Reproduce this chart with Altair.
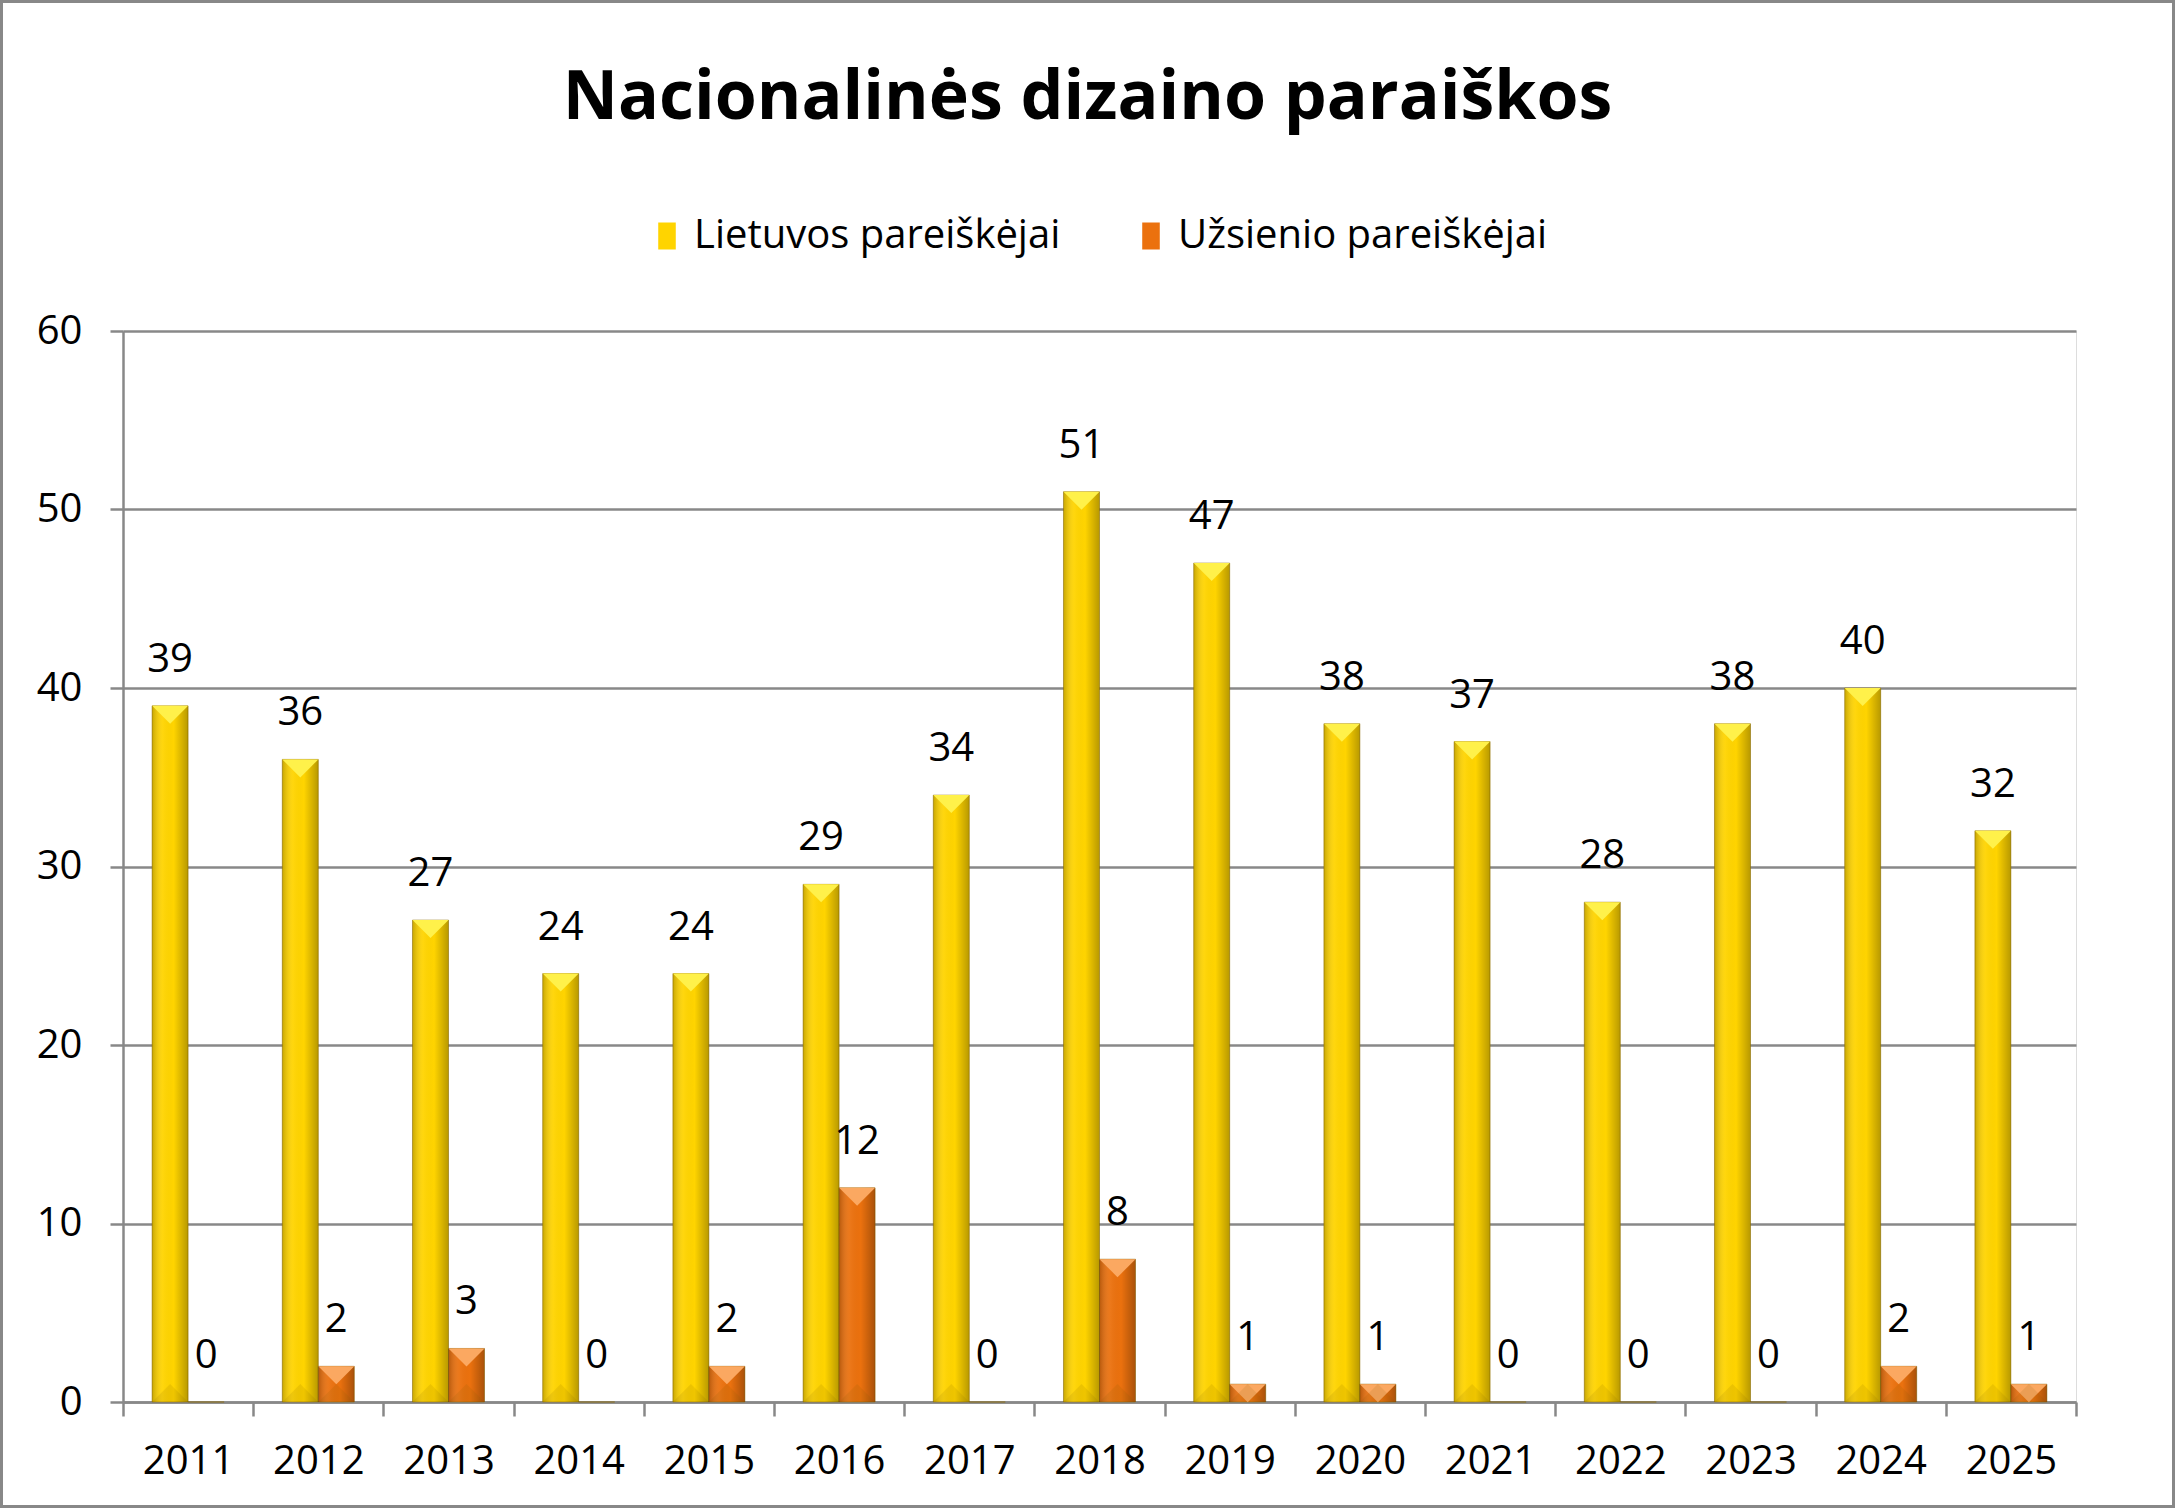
import altair as alt
import pandas as pd

years = [str(y) for y in range(2011, 2026)]
lietuvos = [39, 36, 27, 24, 24, 29, 34, 51, 47, 38, 37, 28, 38, 40, 32]
uzsienio = [0, 2, 3, 0, 2, 12, 0, 8, 1, 1, 0, 0, 0, 2, 1]
series = ["Lietuvos pareiškėjai", "Užsienio pareiškėjai"]
bar_colors = ["#FFD400", "#EB710E"]
top_colors = ["#FFF14A", "#FBA861"]
y_ticks = [0, 10, 20, 30, 40, 50, 60]
title_text = "Nacionalinės dizaino paraiškos"

rows = []
for i, yr in enumerate(years):
    rows.append({"year": yr, "series": series[0], "value": lietuvos[i]})
    rows.append({"year": yr, "series": series[1], "value": uzsienio[i]})
df = pd.DataFrame(rows)

FONT = "Open Sans"
GRAY = "#888888"
FS = 40

x_enc = alt.X(
    "year:N", sort=years, title=None,
    scale=alt.Scale(paddingInner=0, paddingOuter=0),
    axis=alt.Axis(
        tickBand="extent", labelAngle=0, labelFontSize=FS, labelFont=FONT,
        labelColor="black", labelPadding=25, tickSize=14, tickColor=GRAY,
        tickWidth=2.5, domainColor=GRAY, domainWidth=2.5, grid=False,
    ),
)
y_enc = alt.Y(
    "value:Q", title=None,
    scale=alt.Scale(domain=[0, 60], nice=False),
    axis=alt.Axis(
        values=y_ticks, labelFontSize=FS, labelFont=FONT, labelColor="black",
        labelPadding=28, tickSize=13, tickColor=GRAY, tickWidth=2.5,
        domainColor=GRAY, domainWidth=2.5, grid=True, gridColor=GRAY,
        gridWidth=2.5,
    ),
)
off = alt.XOffset("series:N", sort=series,
                  scale=alt.Scale(paddingInner=0, paddingOuter=0.808))

base = alt.Chart(df)

bars = base.mark_bar(stroke="#8C6A00", strokeWidth=1, strokeOpacity=0.5).encode(
    x=x_enc, y=y_enc, xOffset=off,
    color=alt.Color(
        "series:N", sort=series, title=None,
        scale=alt.Scale(domain=series, range=bar_colors),
        legend=alt.Legend(
            orient="none", legendX=524, legendY=-115, direction="horizontal",
            symbolType="M-0.65,-1H0.65V1H-0.65Z", symbolSize=729,
            symbolStrokeWidth=0, labelFontSize=FS, labelFont=FONT,
            labelColor="black", labelOffset=7, columnPadding=70,
            labelLimit=600,
        ),
    ),
)

shade = base.mark_bar(
    fill=alt.LinearGradient(
        gradient="linear", x1=0, x2=1, y1=0, y2=0,
        stops=[
            alt.GradientStop(offset=0, color="rgba(0,0,0,0.22)"),
            alt.GradientStop(offset=0.3, color="rgba(255,255,255,0.05)"),
            alt.GradientStop(offset=0.6, color="rgba(0,0,0,0)"),
            alt.GradientStop(offset=1, color="rgba(0,0,0,0.28)"),
        ],
    )
).encode(x=x_enc, y=y_enc, xOffset=off)

nonzero = base.transform_filter("datum.value > 0")

tops = nonzero.mark_point(
    shape="M-1,0L1,0L0,1Z", size=1296, filled=True, opacity=1, strokeWidth=0
).encode(
    x=x_enc, y=y_enc, xOffset=off,
    fill=alt.Fill("series:N", sort=series,
                  scale=alt.Scale(domain=series, range=top_colors), legend=None),
)

bottoms = nonzero.mark_point(
    shape="M-1,0L1,0L0,-1Z", size=1296, filled=True, opacity=0.12, strokeWidth=0
).encode(
    x=x_enc, y=alt.datum(0), xOffset=off,
    fill=alt.value("#7A5A00"),
)

labels = base.mark_text(
    dy=-34, baseline="alphabetic", fontSize=FS, font=FONT, color="black"
).encode(x=x_enc, y=y_enc, xOffset=off, text="value:Q")

frame = alt.Chart(pd.DataFrame({"k": [0]})).mark_rect(
    fillOpacity=0, stroke=GRAY, strokeWidth=3
).encode(
    x=alt.value(-121.5), x2=alt.value(2050.5),
    y=alt.value(-329.5), y2=alt.value(1175.5),
)

chart = alt.layer(frame, bars, shade, tops, bottoms, labels).resolve_scale(
    fill="independent"
).properties(
    width=1953, height=1071,
    title=alt.TitleParams(
        title_text, font=FONT, fontSize=68,
        fontWeight="bold", color="black", anchor="middle", dx=-12,
        offset=0, dy=187, baseline="alphabetic",
    ),
    autosize=alt.AutoSizeParams(type="none"),
    padding={"left": 123, "top": 331, "right": 99, "bottom": 106},
).configure_view(stroke=None).configure(background="white")

chart.save("out.html", embed_options={"renderer": "svg", "actions": False})
